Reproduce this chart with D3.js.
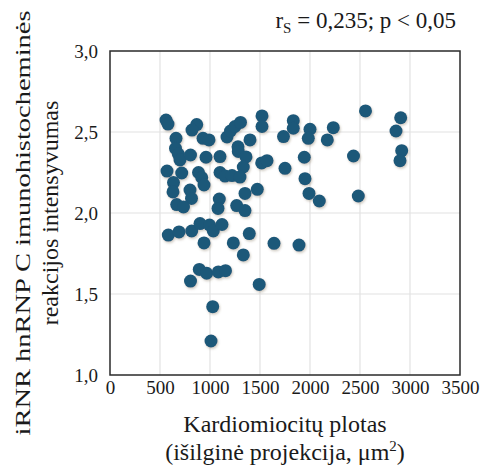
<!DOCTYPE html>
<html>
<head>
<meta charset="utf-8">
<script src="https://cdn.jsdelivr.net/npm/d3@7"></script>
<style>
  body { margin: 0; background: #fff; }
  svg text { font-family: "Liberation Serif", "Times New Roman", serif !important; fill: #1a1a1a; }
</style>
</head>
<body>
<svg id="chart" width="482" height="468"></svg>
<script>
// Cardiomyocyte area (µm²)
const areaValues = [560, 580, 867, 820, 660, 930, 990, 655, 683, 700, 805, 960, 1100, 570, 717, 885, 917, 940, 635, 630,
  800, 815, 667, 735, 1093, 1080, 1267, 1350, 583, 690, 817, 900, 995, 1033, 1120, 940, 1233, 1393, 1333, 1640,
  1890, 893, 967, 805, 1083, 1155, 1492, 1027, 1010, 1170, 1205, 1250, 1305, 1400, 1280, 1283, 1360, 1333, 1517, 1570,
  1100, 1150, 1220, 1300, 1350, 1473, 1520, 1520, 1735, 1833, 1833, 1750, 2000, 1983, 2233, 2173, 1943, 2435, 1950, 1990,
  2093, 2483, 2555, 2907, 2860, 2917, 2900];
// hnRNP C immunohistochemical reaction intensity
const intensityValues = [2.574, 2.549, 2.546, 2.512, 2.461, 2.461, 2.451, 2.399, 2.364, 2.327, 2.358, 2.344, 2.348, 2.259, 2.247, 2.250, 2.219, 2.173, 2.188, 2.130,
  2.142, 2.090, 2.052, 2.037, 2.086, 2.028, 2.046, 2.015, 1.864, 1.883, 1.889, 1.935, 1.926, 1.889, 1.929, 1.815, 1.815, 1.873, 1.741, 1.813,
  1.802, 1.652, 1.628, 1.580, 1.636, 1.644, 1.559, 1.422, 1.210, 2.469, 2.506, 2.534, 2.559, 2.451, 2.409, 2.380, 2.346, 2.284, 2.309, 2.323,
  2.250, 2.228, 2.231, 2.222, 2.121, 2.146, 2.599, 2.534, 2.472, 2.570, 2.523, 2.276, 2.517, 2.461, 2.527, 2.451, 2.344, 2.352, 2.212, 2.121,
  2.074, 2.105, 2.630, 2.588, 2.506, 2.385, 2.323];

const xTicks = [0, 500, 1000, 1500, 2000, 2500, 3000, 3500];
const yTicks = [1.0, 1.5, 2.0, 2.5, 3.0];
const xTitleLines = ["Kardiomiocitų plotas", "(išilginė projekcija, μm"];
const yTitleLines = ["iRNR hnRNP C imunohistocheminės", "reakcijos intensyvumas"];

const svg = d3.select("#chart");
const m = { left: 110, right: 460, top: 51, bottom: 375 };
const FONT = "Liberation Serif";

const x = d3.scaleLinear().domain([0, 3500]).range([m.left, m.right]);
const y = d3.scaleLinear().domain([1.0, 3.0]).range([m.bottom, m.top]);

// drop shadow filter
const defs = svg.append("defs");
const f = defs.append("filter").attr("id", "sh").attr("x", "-50%").attr("y", "-50%").attr("width", "200%").attr("height", "200%");
f.append("feDropShadow").attr("dx", 1).attr("dy", 1.5).attr("stdDeviation", 1.2).attr("flood-color", "#7a6a50").attr("flood-opacity", 0.35);

// grid
svg.append("g").selectAll("line").data(xTicks.filter(d => d > 0 && d < 3500)).join("line")
  .attr("x1", d => x(d)).attr("x2", d => x(d)).attr("y1", m.top).attr("y2", m.bottom)
  .attr("stroke", "#e2e2e2").attr("stroke-width", 1.2);
svg.append("g").selectAll("line").data(yTicks.filter(d => d > 1 && d < 3)).join("line")
  .attr("y1", d => y(d)).attr("y2", d => y(d)).attr("x1", m.left).attr("x2", m.right)
  .attr("stroke", "#e2e2e2").attr("stroke-width", 1.2);

// axes (labels only)
const fmtY = d => d3.format(".1f")(d).replace(".", ",");
const xAxis = d3.axisBottom(x).tickValues(xTicks).tickSize(0).tickPadding(6).tickFormat(d3.format("d"));
const yAxis = d3.axisLeft(y).tickValues(yTicks).tickSize(0).tickPadding(12).tickFormat(fmtY);
const gx = svg.append("g").attr("transform", `translate(0,${m.bottom})`).call(xAxis);
const gy = svg.append("g").attr("transform", `translate(${m.left},0)`).call(yAxis);
[gx, gy].forEach(g => {
  g.attr("font-family", FONT).attr("font-size", 19);
  g.select(".domain").remove();
  g.selectAll("text").style("font-family", FONT).style("font-size", "19px").attr("fill", "#1a1a1a");
});

// points
svg.append("g").attr("filter", "url(#sh)").selectAll("circle").data(areaValues.map((a, i) => [a, intensityValues[i]])).join("circle")
  .attr("cx", d => x(d[0])).attr("cy", d => y(d[1])).attr("r", 6.5)
  .attr("fill", "#1d5879");

// frame
svg.append("rect").attr("x", m.left).attr("y", m.top).attr("width", m.right - m.left).attr("height", m.bottom - m.top)
  .attr("fill", "none").attr("stroke", "#2a2a2a").attr("stroke-width", 1.5);

// x title
const xc = (m.left + m.right) / 2;
svg.append("text").attr("x", xc).attr("y", 432).attr("text-anchor", "middle").style("font-size", "24px").text(xTitleLines[0]);
const t2 = svg.append("text").attr("x", xc).attr("y", 460).attr("text-anchor", "middle").style("font-size", "24px");
t2.append("tspan").text(xTitleLines[1]);
t2.append("tspan").style("font-size", "15px").attr("dy", -9).text("2");
t2.append("tspan").attr("dy", 9).text(")");

// y title
const cy = (m.top + m.bottom) / 2;
svg.append("text").attr("transform", `translate(30,${cy + 10}) rotate(-90)`).attr("text-anchor", "middle")
  .style("font-size", "22px").attr("textLength", 425).attr("lengthAdjust", "spacingAndGlyphs").text(yTitleLines[0]);
svg.append("text").attr("transform", `translate(58,${cy}) rotate(-90)`).attr("text-anchor", "middle")
  .style("font-size", "24px").text(yTitleLines[1]);

// statistics
const st = svg.append("text").attr("x", 456).attr("y", 28).attr("text-anchor", "end").style("font-size", "23px");
st.append("tspan").text("r");
st.append("tspan").style("font-size", "15px").attr("dy", 5).text("S");
st.append("tspan").attr("dy", -5).text(" = 0,235; p < 0,05");
</script>
</body>
</html>
